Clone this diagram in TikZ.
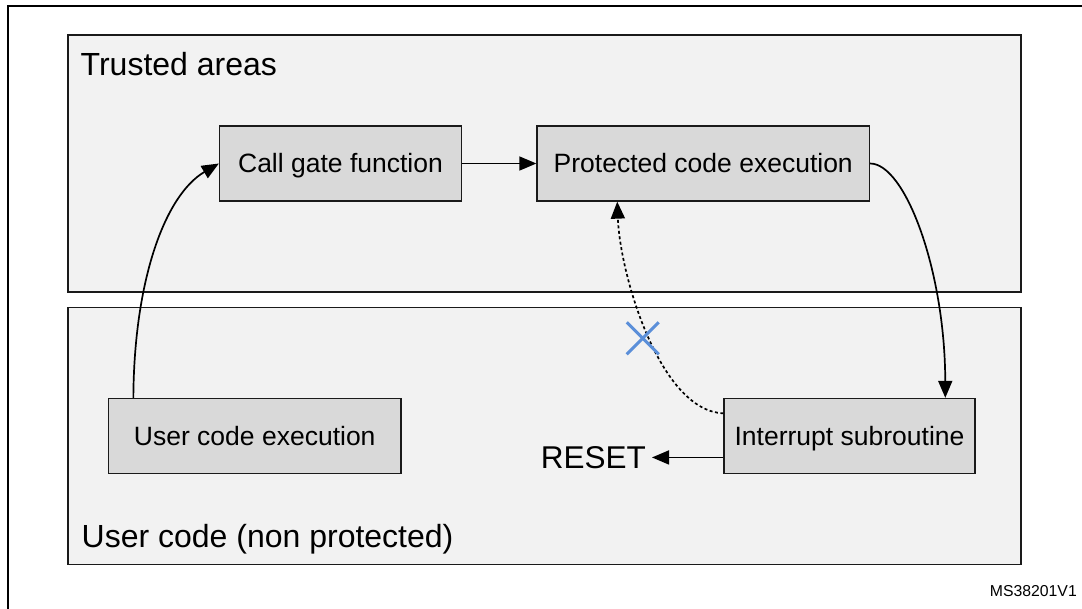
\documentclass[tikz,border=0pt]{standalone}
\usepackage{fontspec}
\setmainfont{Liberation Sans}
\usetikzlibrary{arrows.meta}

\definecolor{areafill}{HTML}{F2F2F2}
\definecolor{boxfill}{HTML}{D9D9D9}
\definecolor{edge}{HTML}{1A1A1A}
\definecolor{crossblue}{HTML}{5B8FD9}

\tikzset{
  area/.style={draw=edge, line width=1.4pt, fill=areafill, rectangle,
    minimum width=953pt, minimum height=257pt, inner sep=0pt},
  stepbox/.style={draw=edge, line width=1.3pt, fill=boxfill, rectangle,
    minimum height=75pt, inner sep=0pt, text height=18.8pt, text depth=0pt,
    font=\fontsize{26.5}{30}\selectfont},
  arealabel/.style={anchor=base west, inner sep=0pt, font=\fontsize{32}{36}\selectfont},
  arr/.style={line width=1.7pt, draw=black, -{Triangle[length=17pt,width=14pt]}},
  blocked/.style={arr, dash pattern=on 3pt off 2.5pt},
  cross/.style={draw=crossblue, line width=3pt},
}

\begin{document}
\begin{tikzpicture}[x=1pt, y=-1pt]
  \clip (0,0) rectangle (1082,608);
  \fill[white] (0,0) rectangle (1082,608);

  % outer frame (left and top borders)
  \draw[line width=2pt, black] (7.5,650) -- (7.5,5.5) -- (1100,5.5);

  % the two memory areas
  \node[area] (trusted) at (544.5,163.5) {};
  \node[area] (user) at (544.5,436) {};
  \node[arealabel] (trustedlbl) at (80.5,75) {Trusted areas};
  \node[arealabel] (userlbl) at (81.5,547.5) {User code (non protected)};

  % process steps
  \node[stepbox, minimum width=242pt] (call) at (340.5,163.5) {Call gate function};
  \node[stepbox, minimum width=332.5pt] (prot) at (703.25,163.5) {Protected code execution};
  \node[stepbox, minimum width=292.5pt] (ucode) at (254.75,436) {User code execution};
  \node[stepbox, minimum width=251pt] (isr) at (849.5,436) {Interrupt subroutine};

  \node[anchor=base east, inner sep=0pt, font=\fontsize{31.5}{34}\selectfont]
    (reset) at (646,468.3) {RESET};
  \node[anchor=base east, inner sep=0pt, font=\fontsize{15.8}{18}\selectfont]
    (ref) at (1077,596.7) {MS38201V1};

  % flow connectors
  \draw[arr] ([xshift=25.5pt]ucode.north west) .. controls (134,280) and (165,195) .. (call.west);
  \draw[arr] (call) -- (prot);
  \draw[arr] (prot.east) .. controls (905,163.5) and (945,270) .. ([xshift=95.8pt]isr.north);
  \draw[blocked] ([yshift=22.7pt]isr.west) .. controls (660,411) and (620,275) .. ([xshift=-86pt]prot.south);
  \draw[arr] (isr.west |- reset.east) -- ([xshift=6pt]reset.east);

  % forbidden return
  \coordinate (xmark) at (642.7,338.3);
  \draw[cross] ([shift={(-16,-16)}]xmark) -- ([shift={(16,16)}]xmark);
  \draw[cross] ([shift={(-16,16)}]xmark) -- ([shift={(16,-16)}]xmark);
\end{tikzpicture}
\end{document}
